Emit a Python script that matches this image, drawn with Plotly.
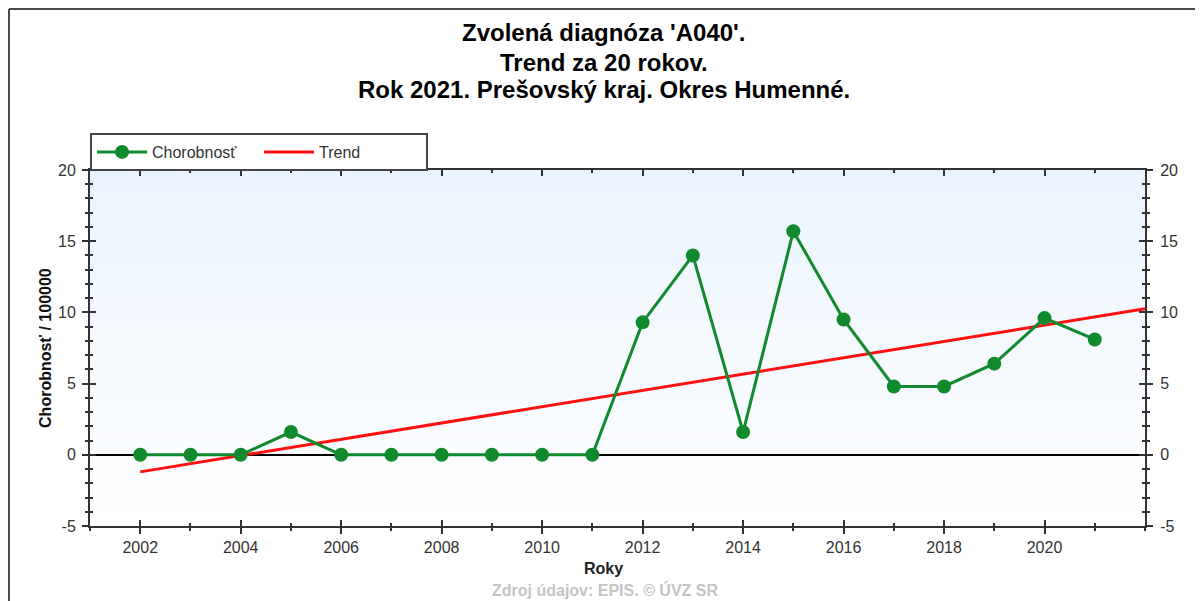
import plotly.graph_objects as go

years = [2002, 2003, 2004, 2005, 2006, 2007, 2008, 2009, 2010, 2011,
         2012, 2013, 2014, 2015, 2016, 2017, 2018, 2019, 2020, 2021]
chorobnost = [0, 0, 0, 1.6, 0, 0, 0, 0, 0, 0,
              9.3, 14.0, 1.6, 15.7, 9.5, 4.8, 4.8, 6.4, 9.6, 8.1]
trend_years = [2002, 2022]
trend_values = [-1.2, 10.25]

x_tickvals = [2002, 2004, 2006, 2008, 2010, 2012, 2014, 2016, 2018, 2020]
y_tickvals = [-5, 0, 5, 10, 15, 20]
y_ticktext = ["-5", "0", "5", "10", "15", "20"]

title_lines = ["Zvolená diagnóza 'A040'.", "Trend za 20 rokov.",
               "Rok 2021. Prešovský kraj. Okres Humenné."]

FONT = "Liberation Sans, Arial, sans-serif"
GREEN = "#11892d"
AXIS = "#333333"
X_RANGE = [2001, 2022]
Y_RANGE = [-5, 20]

fig = go.Figure()

fig.add_trace(go.Scatter(
    name="Trend", x=trend_years, y=trend_values, mode="lines",
    line=dict(color="#ff1010", width=3), legendrank=2))

fig.add_trace(go.Scatter(
    name="Chorobnosť", x=years, y=chorobnost, mode="lines+markers",
    line=dict(color=GREEN, width=3),
    marker=dict(color=GREEN, size=14), legendrank=1))

# invisible helpers so the overlay axes (crossing ticks, right labels) get drawn
fig.add_trace(go.Scatter(x=years, y=chorobnost, xaxis="x", yaxis="y2", mode="lines",
                         opacity=0, showlegend=False, hoverinfo="skip"))
fig.add_trace(go.Scatter(x=years, y=chorobnost, xaxis="x2", yaxis="y", mode="lines",
                         opacity=0, showlegend=False, hoverinfo="skip"))

# light blue -> white gradient of the plot background
shapes = []
n_bands = 60
for i in range(n_bands):
    t = (i + 0.5) / n_bands
    r = round(255 + (234 - 255) * t)
    g = round(255 + (244 - 255) * t)
    b = round(255 + (254 - 255) * t)
    shapes.append(dict(type="rect", xref="x domain", yref="y domain",
                       x0=0, x1=1, y0=i / n_bands, y1=(i + 1) / n_bands + 0.002,
                       fillcolor=f"rgb({r},{g},{b})", line=dict(width=0), layer="below"))

# outer frame (left and top edges visible)
shapes.append(dict(type="line", xref="paper", yref="paper", x0=-0.0768, x1=-0.0768,
                   y0=-0.3, y1=1.452, line=dict(color="#4a4a4a", width=2)))
shapes.append(dict(type="line", xref="paper", yref="paper", x0=-0.0768, x1=1.2,
                   y0=1.452, y1=1.452, line=dict(color="#4a4a4a", width=2)))

tickfont = dict(family=FONT, size=16, color=AXIS)
axis_common = dict(showline=True, linecolor=AXIS, linewidth=2, showgrid=False,
                   tickcolor=AXIS, tickwidth=2, ticklen=6)
minor_x_in = dict(dtick=1, tick0=2001, ticks="inside", ticklen=3, tickcolor=AXIS, tickwidth=1.5)
minor_x_out = dict(dtick=1, tick0=2001, ticks="outside", ticklen=3, tickcolor=AXIS, tickwidth=1.5)
minor_y_in = dict(dtick=1, tick0=0, ticks="inside", ticklen=3, tickcolor=AXIS, tickwidth=1.5)
minor_y_out = dict(dtick=1, tick0=0, ticks="outside", ticklen=3, tickcolor=AXIS, tickwidth=1.5)

# the page body adds an 8px offset, so the figure is sized 1195x593
fig.update_layout(
    width=1195, height=593,
    margin=dict(l=82, r=58, t=162, b=75, autoexpand=False),
    paper_bgcolor="white", plot_bgcolor="white",
    font=dict(family=FONT, color=AXIS),
    shapes=shapes,
    showlegend=True,
    legend=dict(orientation="h", x=0, y=1.104, xanchor="left", yanchor="top",
                bgcolor="white", bordercolor="#444444", borderwidth=2,
                font=dict(family=FONT, size=16, color="#333333"),
                itemwidth=50, entrywidth=102, entrywidthmode="pixels",
                traceorder="normal"),
    xaxis=dict(range=X_RANGE, tickmode="array", tickvals=x_tickvals,
               ticks="inside", mirror="ticks", tickfont=tickfont,
               ticklabelstandoff=6, zeroline=False, minor=minor_x_in, **axis_common),
    xaxis2=dict(range=X_RANGE, overlaying="x", anchor="y", side="bottom",
                tickmode="array", tickvals=x_tickvals, ticks="outside",
                showticklabels=False, zeroline=False, minor=minor_x_out, **axis_common),
    yaxis=dict(range=Y_RANGE, tickmode="array", tickvals=y_tickvals, ticktext=y_ticktext,
               ticks="inside", mirror="ticks", tickfont=tickfont, ticklabelstandoff=9,
               zeroline=True, zerolinecolor="black", zerolinewidth=1.5,
               minor=minor_y_in, **axis_common),
    yaxis2=dict(range=Y_RANGE, overlaying="y", anchor="x", side="right",
                tickmode="array", tickvals=y_tickvals, ticktext=y_ticktext,
                ticks="outside", mirror="ticks", tickfont=tickfont,
                ticklabelstandoff=4, zeroline=False, minor=minor_y_out, **axis_common),
    annotations=[
        dict(text=f"<b>{title_lines[0]}</b>", x=0.487, y=1.385),
        dict(text=f"<b>{title_lines[1]}</b>", x=0.487, y=1.303),
        dict(text=f"<b>{title_lines[2]}</b>", x=0.487, y=1.225),
    ],
)

for a in fig.layout.annotations:
    a.update(xref="paper", yref="paper", xanchor="center", yanchor="middle",
             showarrow=False, font=dict(family=FONT, size=24, color="black"))

fig.add_annotation(text="<b>Roky</b>", xref="paper", yref="paper", x=0.487, y=-0.118,
                   xanchor="center", yanchor="middle", showarrow=False,
                   font=dict(family=FONT, size=16, color="#222222"))
fig.add_annotation(text="<b>Chorobnosť / 100000</b>", xref="paper", yref="paper",
                   x=-0.0427, y=0.5, textangle=-90, xanchor="center", yanchor="middle",
                   showarrow=False, font=dict(family=FONT, size=16, color="#111111"))
fig.add_annotation(text="<b>Zdroj údajov: EPIS. © ÚVZ SR</b>", xref="paper", yref="paper",
                   x=0.488, y=-0.18, xanchor="center", yanchor="middle", showarrow=False,
                   font=dict(family=FONT, size=16, color="#c4c4c4"))

fig.write_html("out.html")
